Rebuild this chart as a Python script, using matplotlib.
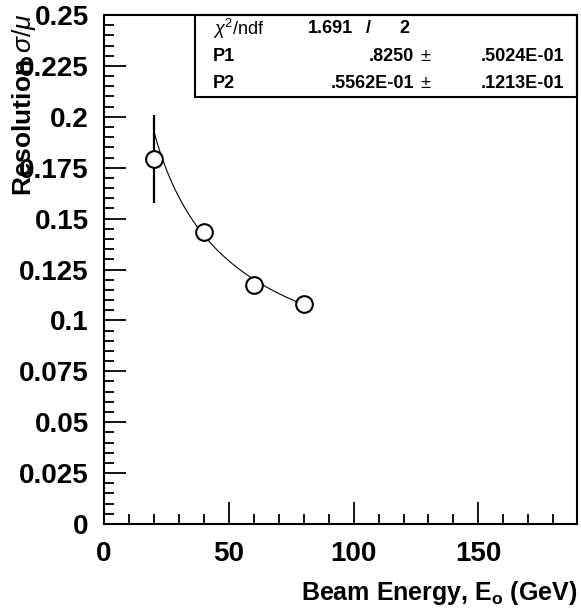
import numpy as np
import matplotlib
matplotlib.use("Agg")
import matplotlib.pyplot as plt
from matplotlib.patches import Rectangle
from matplotlib.ticker import MultipleLocator, FixedLocator

plt.rcParams['font.family'] = ['Liberation Sans', 'DejaVu Sans']
plt.rcParams['mathtext.fontset'] = 'custom'
plt.rcParams['mathtext.rm'] = 'Liberation Sans'
plt.rcParams['mathtext.it'] = 'Liberation Sans:italic'
plt.rcParams['mathtext.bf'] = 'Liberation Sans:bold'

# measured resolution vs beam energy
energy = [20, 40, 60, 80]
resolution = [0.1792, 0.1433, 0.1172, 0.1081]
res_err = [0.0215, 0.003, 0.003, 0.003]

# fit: sigma/mu = sqrt(P1^2/E + P2^2)
p1, p1_err = 0.8250, 0.05024
p2, p2_err = 0.05562, 0.01213
chi2, ndf = 1.691, 2

x_ticks = [0, 50, 100, 150]
y_ticks = [0, 0.025, 0.05, 0.075, 0.1, 0.125, 0.15, 0.175, 0.2, 0.225, 0.25]
y_labels = ["0", "0.025", "0.05", "0.075", "0.1", "0.125", "0.15", "0.175",
            "0.2", "0.225", "0.25"]

def fitfunc(e):
    return np.sqrt(p1**2 / e + p2**2)

fig = plt.figure(figsize=(5.81, 6.14), dpi=100)
ax = fig.add_axes([104/581, 1-524/614, 473/581, 509/614])

ax.errorbar(energy, resolution, yerr=res_err, fmt='none', ecolor='black',
            elinewidth=1.6, capsize=0, zorder=2)
ax.plot(energy, resolution, 'o', ms=12, mfc='white', mec='black', mew=1.5,
        zorder=3)
ef = np.linspace(energy[0], energy[-1], 200)
ax.plot(ef, fitfunc(ef), color='black', lw=0.8, zorder=2.5)

ax.set_xlim(0, 189.5)
ax.set_ylim(0, 0.25)
ax.xaxis.set_major_locator(FixedLocator(x_ticks))
ax.xaxis.set_minor_locator(MultipleLocator(10))
ax.yaxis.set_major_locator(FixedLocator(y_ticks))
ax.yaxis.set_minor_locator(MultipleLocator(0.005))
ax.set_yticklabels(y_labels)
ax.set_xticklabels([str(t) for t in x_ticks])
ax.tick_params(which='major', direction='in', length=16, width=1.3,
               labelsize=20, top=False, right=False)
ax.tick_params(which='minor', direction='in', length=7.5, width=1.3,
               top=False, right=False)
ax.tick_params(axis='y', pad=11)
ax.tick_params(axis='x', pad=12)
for lab in ax.get_xticklabels() + ax.get_yticklabels():
    lab.set_fontweight('bold')
for s in ax.spines.values():
    s.set_linewidth(1.5)

# stats box
bx0 = (195 - 104) / 473
by0 = (524 - 97) / 509
ax.add_patch(Rectangle((bx0, by0), 1 - bx0, 1 - by0, transform=ax.transAxes,
                       fill=False, ec='black', lw=1.5, clip_on=False, zorder=5))
rows = [0.973, 0.919, 0.866]
fs = 13
ax.text(0.2304, rows[0], r'$\chi^{2}$/ndf', transform=ax.transAxes,
        fontsize=fs, va='center', ha='left')
ax.text(0.430, rows[0], '%.3f' % chi2, transform=ax.transAxes, fontsize=fs,
        fontweight='bold', va='center', ha='left')
ax.text(0.558, rows[0], '/', transform=ax.transAxes, fontsize=fs,
        fontweight='bold', va='center', ha='center')
ax.text(0.636, rows[0], str(ndf), transform=ax.transAxes, fontsize=fs,
        fontweight='bold', va='center', ha='center')
params = [('P1', '.8250', '.5024E-01'), ('P2', '.5562E-01', '.1213E-01')]
for row, (name, val, err) in zip(rows[1:], params):
    ax.text(0.2304, row, name, transform=ax.transAxes, fontsize=fs,
            fontweight='bold', va='center', ha='left')
    ax.text(0.6554, row, val, transform=ax.transAxes, fontsize=fs,
            fontweight='bold', va='center', ha='right')
    ax.text(0.6786, row, u'\u00b1', transform=ax.transAxes, fontsize=fs,
            va='center', ha='center')
    ax.text(0.9736, row, err, transform=ax.transAxes, fontsize=fs,
            fontweight='bold', va='center', ha='right')

fig.text(577/581, 1 - 600/614, r'Beam Energy, E$_{\mathbf{o}}$ (GeV)',
         fontsize=18, fontweight='bold', ha='right', va='baseline')
fig.text(24/581, 1 - 13/614, r'Resolution $\sigma/\mu$', fontsize=19,
         fontweight='bold', rotation=90, ha='center', va='top')

fig.savefig('out.png', dpi=100)
